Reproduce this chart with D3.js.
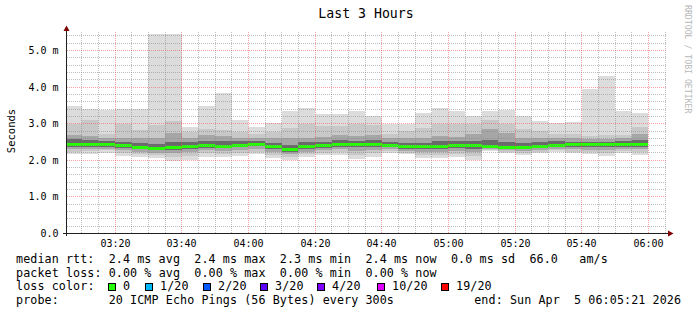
<!DOCTYPE html>
<html><head><meta charset="utf-8">
<script src="https://cdn.jsdelivr.net/npm/d3@7"></script>
<style>
body{margin:0;background:#fff}
svg{display:block}
text{font-family:"DejaVu Sans Mono",monospace;white-space:pre}
</style>
</head><body>
<svg id="c" width="697" height="315"></svg>
<script>
// ---------------- data ----------------
const barEnds = ["03:10","03:15","03:20","03:25","03:30","03:35","03:40","03:45","03:50","03:55",
  "04:00","04:05","04:10","04:15","04:20","04:25","04:30","04:35","04:40","04:45","04:50","04:55",
  "05:00","05:05","05:10","05:15","05:20","05:25","05:30","05:35","05:40","05:45","05:50","05:55","06:00"];
// ping smoke, ms (sorted-ping bands from outer to inner)
const smokeMax = [3.48,3.40,3.37,3.41,3.41,5.46,5.46,2.91,3.48,3.83,3.09,2.90,3.03,3.35,3.43,3.26,3.26,3.35,3.20,3.00,2.98,3.30,3.42,3.34,3.22,3.34,3.38,3.20,3.07,3.02,3.05,3.94,4.30,3.34,3.30];
const smokeHi  = [3.00,3.09,2.72,3.00,2.82,2.96,3.07,2.78,2.85,2.82,2.78,2.72,2.78,2.87,3.00,2.95,2.93,2.98,2.96,2.72,2.80,2.87,3.00,3.00,3.00,3.10,2.98,2.85,2.80,2.72,2.72,2.66,2.68,2.70,2.90];
const smokeQ3  = [2.70,2.66,2.62,2.62,2.60,2.60,2.75,2.62,2.68,2.66,2.62,2.62,2.60,2.60,2.62,2.63,2.68,2.66,2.70,2.60,2.62,2.62,2.66,2.65,2.72,2.85,2.75,2.62,2.62,2.62,2.60,2.58,2.58,2.60,2.72];
const smokeI3  = [2.58,2.55,2.52,2.50,2.48,2.45,2.50,2.50,2.54,2.52,2.52,2.53,2.47,2.42,2.49,2.51,2.55,2.54,2.55,2.50,2.48,2.48,2.52,2.52,2.54,2.55,2.50,2.48,2.50,2.52,2.50,2.50,2.51,2.52,2.55];
const median   = [2.42,2.43,2.42,2.40,2.35,2.33,2.35,2.38,2.41,2.39,2.41,2.44,2.37,2.29,2.38,2.40,2.43,2.43,2.43,2.41,2.37,2.37,2.38,2.40,2.40,2.38,2.35,2.36,2.39,2.41,2.42,2.43,2.43,2.43,2.43];
const smokeI1  = [2.36,2.37,2.37,2.33,2.30,2.27,2.28,2.30,2.34,2.33,2.35,2.38,2.30,2.22,2.31,2.34,2.37,2.35,2.36,2.36,2.31,2.30,2.31,2.33,2.32,2.33,2.30,2.30,2.34,2.36,2.36,2.36,2.36,2.37,2.37];
const smokeQ1  = [2.30,2.31,2.32,2.27,2.24,2.21,2.20,2.22,2.27,2.26,2.28,2.31,2.23,2.16,2.24,2.28,2.30,2.26,2.28,2.31,2.26,2.23,2.23,2.26,2.24,2.30,2.27,2.25,2.29,2.32,2.30,2.29,2.28,2.32,2.30];
const smokeLo  = [2.24,2.25,2.27,2.20,2.17,2.14,2.10,2.13,2.19,2.18,2.20,2.24,2.15,2.09,2.16,2.21,2.22,2.15,2.19,2.26,2.21,2.15,2.14,2.17,2.13,2.27,2.23,2.19,2.24,2.27,2.24,2.22,2.19,2.25,2.22];
const smokeMin = [2.16,2.16,2.19,2.12,2.08,2.05,1.98,2.02,2.10,2.09,2.11,2.16,2.07,2.02,2.08,2.14,2.14,2.03,2.09,2.19,2.16,2.07,2.05,2.09,2.00,2.25,2.19,2.14,2.19,2.23,2.19,2.16,2.11,2.19,2.14];

const yTickValues = [0,1,2,3,4,5];
const title = "Last 3 Hours";
const yLabel = "Seconds";
const legendRows = [
  "median rtt:  2.4 ms avg  2.4 ms max  2.3 ms min  2.4 ms now  0.0 ms sd  66.0   am/s",
  "packet loss: 0.00 % avg  0.00 % max  0.00 % min  0.00 % now"
];
const lossLabels = ["0","1/20","2/20","3/20","4/20","10/20","19/20"];
const lossColors = ["#26ff00","#00b8ff","#0059ff","#5e00ff","#7e00ff","#dd00ff","#ff0000"];
const lossBoxX = [108.5,145.5,203.5,260.5,317.5,377.5,441.5];
const probeText = "probe:       20 ICMP Echo Pings (56 Bytes) every 300s";
const endText = "end: Sun Apr  5 06:05:21 2026";
const watermark = "RRDTOOL / TOBI OETIKER";

// ---------------- scales ----------------
const parse = d3.utcParse("%Y-%m-%d %H:%M:%S");
const tStart = parse("2026-04-05 03:05:21"), tEnd = parse("2026-04-05 06:05:21");
const x = d3.scaleUtc().domain([tStart, tEnd]).range([66.2, 666.2]);
const y = d3.scaleLinear().domain([0, 5.5]).range([233.5, 32.2]);
const px = v => Math.floor(v) + 0.5;

const svg = d3.select("#c");
svg.append("rect").attr("width",697).attr("height",315).attr("fill","#fff");

const endDates = barEnds.map(s => parse("2026-04-05 " + s + ":00"));
const step = 5*60*1000;
const x0 = d => x(Math.max(+tStart, +d - step));

// ---------------- smoke ----------------
const gData = svg.append("g").attr("shape-rendering","crispEdges");
const layers = [
  {lo: smokeMin, hi: smokeMax, c: "#dcdcdc"},
  {lo: smokeLo,  hi: smokeHi,  c: "#c8c8c8"},
  {lo: smokeQ1,  hi: smokeQ3,  c: "#a6a6a6"},
  {lo: smokeI1,  hi: smokeI3,  c: "#6a6a6a"}
];
layers.forEach(L => {
  gData.append("g").selectAll("rect").data(endDates).join("rect")
    .attr("x", d => x0(d))
    .attr("width", d => x(d) - x0(d))
    .attr("y", (d,i) => y(L.hi[i]))
    .attr("height", (d,i) => y(L.lo[i]) - y(L.hi[i]))
    .attr("fill", L.c);
});
// median
gData.append("g").selectAll("rect").data(endDates).join("rect")
  .attr("x", d => x0(d))
  .attr("width", d => x(d) - x0(d))
  .attr("y", (d,i) => y(median[i]) - 1.5)
  .attr("height", 3)
  .attr("fill", "#26ff00");

// ---------------- grid ----------------
const gGrid = svg.append("g").attr("shape-rendering","crispEdges").attr("stroke-dasharray","1,1");
const minorY = d3.range(1, 28).map(i => i*0.2).filter(v => Math.abs(v - Math.round(v)) > 1e-6);
const majorY = [1,2,3,4,5];
const minorT = d3.utcMinute.every(5).range(tStart, tEnd).filter(t => t.getUTCMinutes() % 20 !== 0);
const majorT = d3.utcMinute.every(20).range(tStart, tEnd);
const minorCol = "rgba(128,128,128,0.5)", majorCol = "rgba(240,70,70,0.5)";
gGrid.append("g").selectAll("line").data(minorY).join("line")
  .attr("x1", 66.5).attr("x2", 667).attr("y1", v => px(y(v))).attr("y2", v => px(y(v)))
  .attr("stroke", minorCol);
gGrid.append("g").selectAll("line").data(minorT).join("line")
  .attr("y1", 233).attr("y2", 32).attr("x1", t => px(x(t))).attr("x2", t => px(x(t)))
  .attr("stroke", minorCol);
gGrid.append("g").selectAll("line").data(majorY).join("line")
  .attr("x1", 66.5).attr("x2", 667).attr("y1", v => px(y(v))).attr("y2", v => px(y(v)))
  .attr("stroke", majorCol);
gGrid.append("g").selectAll("line").data(majorT).join("line")
  .attr("y1", 233).attr("y2", 32).attr("x1", t => px(x(t))).attr("x2", t => px(x(t)))
  .attr("stroke", majorCol);

// ---------------- axes ----------------
const gAx = svg.append("g").attr("shape-rendering","crispEdges");
gAx.append("line").attr("x1",66.5).attr("x2",66.5).attr("y1",236).attr("y2",29).attr("stroke","#202020");
gAx.append("line").attr("x1",63).attr("x2",670).attr("y1",233.5).attr("y2",233.5).attr("stroke","#202020");
svg.append("path").attr("d","M63.5,31 L66.5,25.5 L69.5,31 Z").attr("fill","#7f0000");
svg.append("path").attr("d","M668,230.5 L673.5,233.5 L668,236.5 Z").attr("fill","#7f0000");

// y tick labels
svg.append("g").selectAll("text").data(yTickValues).join("text")
  .attr("x", 58.5).attr("y", v => px(y(v)) + 3.5)
  .attr("text-anchor","end").attr("font-size","10px").attr("fill","#000")
  .text(v => v === 0 ? "0.0" : v.toFixed(1) + " m");
// x tick labels
const fmt = d3.utcFormat("%H:%M");
svg.append("g").selectAll("text").data(majorT).join("text")
  .attr("x", t => px(x(t))).attr("y", 246.5)
  .attr("text-anchor","middle").attr("font-size","10px").attr("fill","#000")
  .text(t => fmt(t));

// title
svg.append("text").attr("x",366).attr("y",18).attr("text-anchor","middle")
  .attr("font-size","13.2px").attr("fill","#000").text(title);
// y label
svg.append("text").attr("transform","translate(15,131) rotate(-90)").attr("text-anchor","middle")
  .attr("font-size","10.5px").attr("fill","#000").text(yLabel);
// watermark
svg.append("text").attr("transform","translate(685,5) rotate(90)").attr("text-anchor","start")
  .attr("font-size","8.2px").attr("fill","#b8b8b8").text(watermark);

// legend
const lf = "11.7px", adv = 7.13;
const rowY = [262.8, 276.5, 290.2, 304];
const legText = (t, xx, yy, anchor) => svg.append("text").attr("x", xx).attr("y", yy)
  .attr("font-size", lf).attr("fill", "#000").attr("text-anchor", anchor || "start")
  .attr("textLength", t.length * adv).attr("lengthAdjust", "spacing").text(t);
legendRows.forEach((t,i) => legText(t, 16, rowY[i]));
legText("loss color:", 16, rowY[2]);
const gL = svg.append("g");
lossLabels.forEach((l,i) => {
  gL.append("rect").attr("x",lossBoxX[i]).attr("y",283.5).attr("width",7).attr("height",7)
    .attr("fill",lossColors[i]).attr("stroke","#000").attr("stroke-width",1).attr("shape-rendering","crispEdges");
  legText(l, lossBoxX[i] + 14.5, rowY[2]);
});
legText(probeText, 16, rowY[3]);
legText(endText, 681, rowY[3], "end");
</script>
</body></html>
